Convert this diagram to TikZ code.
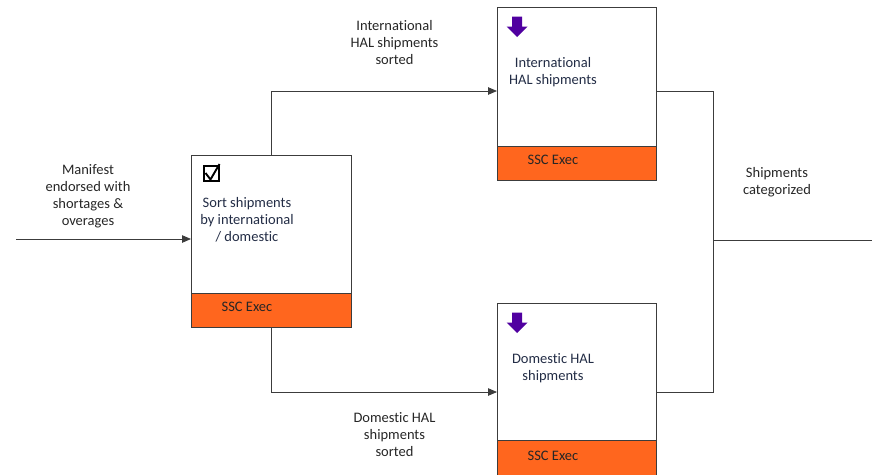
\documentclass[tikz,border=0pt]{standalone}
\usepackage{fontspec}
\setmainfont{Carlito}[Ligatures={NoCommon}]
\usetikzlibrary{arrows.meta}
\definecolor{ssc}{RGB}{255,102,30}
\definecolor{purp}{RGB}{80,0,160}
\definecolor{edge}{RGB}{60,60,60}
\definecolor{btxt}{RGB}{35,45,70}
\begin{document}
\begin{tikzpicture}[x=1pt,y=-1pt,
  conn/.style={draw=edge,line width=0.8pt},
  arr/.style={conn,-{Triangle[length=9pt,width=7.5pt]}},
  lbl/.style={align=center,font=\fontsize{14.5}{17}\selectfont,text=black!85,inner sep=0pt},
  boxtxt/.style={align=center,font=\fontsize{14.5}{17}\selectfont,text=btxt,inner sep=0pt},
  frame/.style={draw=edge,line width=0.8pt,fill=white},
  band/.style={draw=edge,line width=0.8pt,fill=ssc}]
\useasboundingbox (0,0) rectangle (872,474);
% box 1
\path[frame] (191,155) rectangle (351,327);
\path[band] (191,293) rectangle (351,327);
\node[lbl,anchor=base] (s1) at (247,311) {SSC Exec};
\node[boxtxt] (t1) at (247,220) {Sort shipments\\by international\\/ domestic};
\node[draw=black,line width=1.6pt,minimum size=15.5pt,inner sep=0pt] (cb) at (211.5,173.5) {};
\draw[line width=1.9pt] (205.5,173) -- (210.5,179.5) -- (219.5,164);
\coordinate (b1w) at (191,239);
\coordinate (b1n) at (271,155);
\coordinate (b1s) at (271,327);
% box 2
\path[frame] (497,7) rectangle (656,180);
\path[band] (497,146) rectangle (656,180);
\node[lbl,anchor=base] (s2) at (553,164) {SSC Exec};
\node[boxtxt] (t2) at (553,72.5) {International\\HAL shipments};
\fill[purp] (512,16.5) -- (522,16.5) -- (522,26.5) -- (527.5,26.5) -- (517,37) -- (506.5,26.5) -- (512,26.5) -- cycle;
\coordinate (b2w) at (497,91);
\coordinate (b2e) at (656,91);
% box 3
\path[frame] (497,303) rectangle (656,476);
\path[band] (497,440) rectangle (656,476);
\node[lbl,anchor=base] (s3) at (553,460) {SSC Exec};
\node[boxtxt] (t3) at (553,368) {Domestic HAL\\shipments};
\fill[purp] (512,312.5) -- (522,312.5) -- (522,322.5) -- (527.5,322.5) -- (517,333) -- (506.5,322.5) -- (512,322.5) -- cycle;
\coordinate (b3w) at (497,392);
\coordinate (b3e) at (656,392);
% connectors
\coordinate (in) at (16,239);
\coordinate (j) at (713,240);
\coordinate (out) at (872,240);
\draw[arr] (in) -- (b1w);
\draw[arr] (b1n) |- (b2w);
\draw[arr] (b1s) |- (b3w);
\draw[conn] (b2e) -| (713,392) -- (b3e);
\draw[conn] (j) -- (out);
% labels
\node[lbl] (l1) at (88,196) {Manifest\\endorsed with\\shortages \&\\overages};
\node[lbl] (l2) at (394.5,43) {International\\HAL shipments\\sorted};
\node[lbl] (l3) at (394.5,435) {Domestic HAL\\shipments\\sorted};
\node[lbl] (l4) at (777,182) {Shipments\\categorized};
\end{tikzpicture}
\end{document}
